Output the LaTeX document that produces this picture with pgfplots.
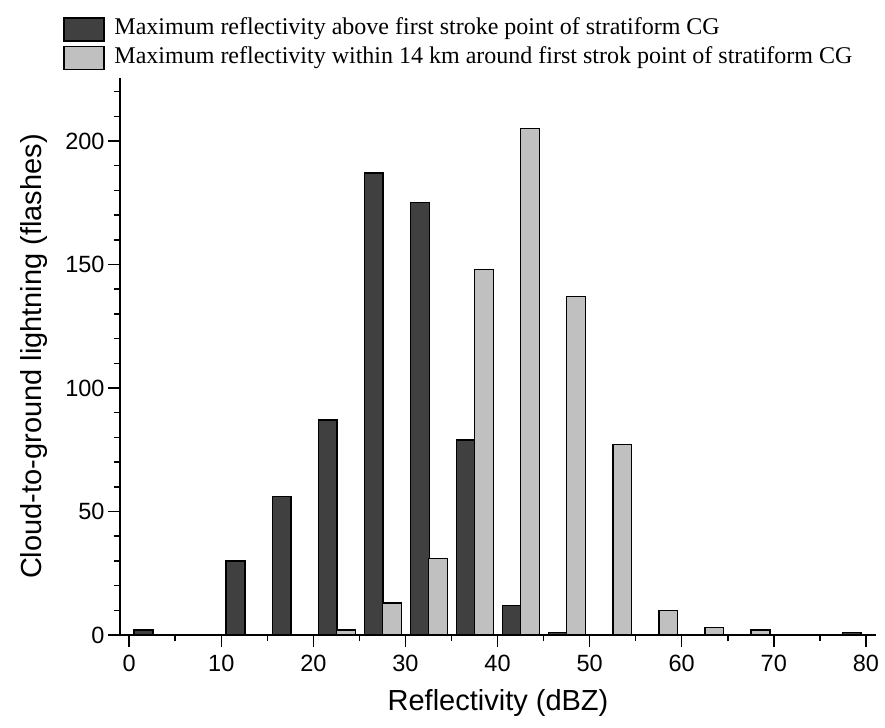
\documentclass[border=0pt]{standalone}
\usepackage{fontspec}
\setmainfont{Liberation Serif}
\newfontfamily\axfont{Liberation Sans}
\usepackage{pgfplots}
\pgfplotsset{compat=1.18}
\definecolor{darkbar}{RGB}{64,64,64}
\definecolor{lightbar}{RGB}{192,192,192}
\begin{document}
\begin{tikzpicture}
\path[use as bounding box] (-120bp,-93bp) rectangle (765bp,635bp);
\begin{axis}[
  scale only axis, width=756bp, height=557bp,
  at={(0,0)}, anchor=south west,
  xmin=-1.0, xmax=81.1, ymin=0, ymax=225.5,
  axis lines*=left,
  axis line style={line width=1.5bp, black},
  xtick={0,10,...,80}, minor xtick={5,15,...,75},
  ytick={0,50,...,200},
  minor ytick={10,20,30,40,60,70,80,90,110,120,130,140,160,170,180,190,210,220},
  tick align=outside, major tick length=12bp, minor tick length=6bp,
  tick style={line width=1.5bp, black},
  /pgf/number format/assume math mode=true,
  tick label style={font=\axfont\fontsize{23.5bp}{27bp}\selectfont},
  xticklabel style={yshift=-5bp},
  yticklabel style={xshift=0bp},
  xlabel={Reflectivity (dBZ)},
  ylabel={Cloud-to-ground lightning (flashes)},
  label style={font=\axfont\fontsize{29bp}{33bp}\selectfont},
  xlabel style={at={(axis description cs:0.5,-0.1347)}, anchor=base},
  ylabel style={at={(axis description cs:-0.1138,0.5)}, anchor=center},
  legend style={at={(axis description cs:-0.0754,1.1095)}, anchor=north west,
    draw=none, fill=none, inner sep=0pt, row sep=4bp, column sep=10bp,
    font=\fontsize{24bp}{27bp}\selectfont,
    nodes={inner sep=0pt, text height=17bp, text depth=6bp}},
  legend cell align=left,
]
\addplot[ybar, bar shift=0pt, bar width=2.05, fill=darkbar, draw=black, line width=1.3bp,
  legend image code/.code={\draw[fill=darkbar, draw=black, line width=1.3bp] (0bp,-11.5bp) rectangle (40bp,11.5bp);}]
  coordinates {(1.55,2) (11.55,30) (16.55,56) (21.55,87) (26.55,187) (31.55,175) (36.55,79) (41.55,12) (46.55,1) (78.45,1)};
\addlegendentry{Maximum reflectivity above first stroke point of stratiform CG}
\addplot[ybar, bar shift=0pt, bar width=2.05, fill=lightbar, draw=black, line width=1.3bp,
  legend image code/.code={\draw[fill=lightbar, draw=black, line width=1.3bp] (0bp,-11.5bp) rectangle (40bp,11.5bp);}]
  coordinates {(23.55,2) (28.55,13) (33.55,31) (38.55,148) (43.55,205) (48.55,137) (53.55,77) (58.55,10) (63.55,3) (68.55,2)};
\addlegendentry{Maximum reflectivity within 14 km around first strok point of stratiform CG}
\end{axis}
\end{tikzpicture}
\end{document}
